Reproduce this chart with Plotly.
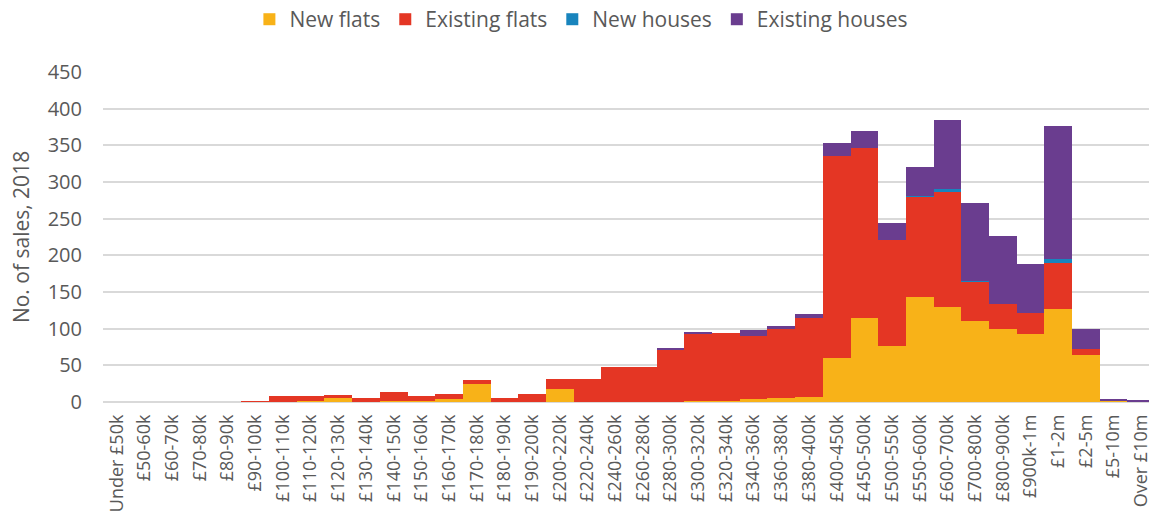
import plotly.graph_objects as go

categories = ["Under £50k", "£50-60k", "£60-70k", "£70-80k", "£80-90k", "£90-100k",
              "£100-110k", "£110-120k", "£120-130k", "£130-140k", "£140-150k", "£150-160k",
              "£160-170k", "£170-180k", "£180-190k", "£190-200k", "£200-220k", "£220-240k",
              "£240-260k", "£260-280k", "£280-300k", "£300-320k", "£320-340k", "£340-360k",
              "£360-380k", "£380-400k", "£400-450k", "£450-500k", "£500-550k", "£550-600k",
              "£600-700k", "£700-800k", "£800-900k", "£900k-1m", "£1-2m", "£2-5m",
              "£5-10m", "Over £10m"]

new_flats = [0, 0, 0, 0, 0, 0, 0, 1, 5, 0, 1, 1, 4, 25, 0, 0, 18, 0, 0, 0,
             0, 1, 2, 4, 6, 7, 60, 114, 77, 143, 130, 110, 99, 93, 127, 64, 2, 0]
existing_flats = [0, 0, 0, 0, 0, 1, 8, 7, 5, 5, 13, 7, 7, 5, 5, 11, 14, 32, 48, 48,
                  72, 93, 92, 86, 94, 107, 275, 232, 144, 137, 157, 54, 35, 28, 62, 8, 0, 0]
new_houses = [0, 0, 0, 0, 0, 0, 0, 0, 0, 0, 0, 0, 0, 0, 0, 0, 0, 0, 0, 0,
              0, 0, 0, 0, 0, 0, 0, 0, 0, 1, 4, 1, 0, 0, 6, 0, 0, 0]
existing_houses = [0, 0, 0, 0, 0, 0, 0, 0, 0, 0, 0, 0, 0, 0, 0, 0, 0, 0, 0, 0,
                   1, 2, 0, 8, 3, 6, 18, 24, 23, 39, 93, 106, 93, 67, 181, 27, 1, 2]

series = [
    ("New flats", new_flats, "#F8B218"),
    ("Existing flats", existing_flats, "#E43624"),
    ("New houses", new_houses, "#1884BD"),
    ("Existing houses", existing_houses, "#6A3D8F"),
]

FONT = "Open Sans"
GREY = "#595959"

fig = go.Figure()
for name, vals, color in series:
    fig.add_trace(go.Bar(
        x=categories, y=vals, name=name,
        marker=dict(color=color, line=dict(width=0)),
    ))

fig.update_layout(
    width=1149, height=515,
    barmode="stack", bargap=0,
    plot_bgcolor="white", paper_bgcolor="white",
    margin=dict(l=103, r=0, t=72, b=113),
    font=dict(family=FONT, color=GREY),
    legend=dict(
        orientation="h", traceorder="normal",
        xref="container", yref="container",
        x=0.506, xanchor="center", y=0.962, yanchor="middle",
        font=dict(size=21, color=GREY, family=FONT),
        itemclick=False,
    ),
    xaxis=dict(
        type="category",
        range=[-0.5, 37.28], autorange=False,
        tickangle=-90, tickfont=dict(size=18, color=GREY, family=FONT),
        showgrid=False, showline=False, ticks="",
        ticklabelstandoff=8,
        automargin=False,
    ),
    yaxis=dict(
        range=[0, 450], dtick=50, autorange=False,
        showgrid=True, gridcolor="#D9D9D9", gridwidth=1.5,
        zeroline=True, zerolinecolor="#D9D9D9", zerolinewidth=2,
        tickfont=dict(size=20, color=GREY, family=FONT),
        ticks="", ticklabelstandoff=20,
        title=dict(text="No. of sales, 2018", font=dict(size=21, color=GREY, family=FONT), standoff=12),
        automargin=False,
    ),
)

fig.write_html("out.html", config={"displayModeBar": False},
               post_script="document.body.style.margin='0';document.body.style.overflow='hidden';")
